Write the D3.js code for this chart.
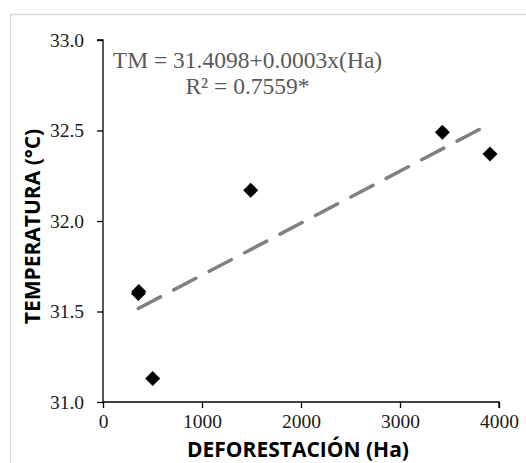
<!DOCTYPE html>
<html>
<head>
<meta charset="utf-8">
<script src="https://cdn.jsdelivr.net/npm/d3@7"></script>
<style>
  body { margin: 0; background: #fff; }
  svg { display: block; }
  .serif { font-family: "Liberation Serif", "Times New Roman", serif; }
  .title { font-family: "Open Sans", sans-serif; font-weight: bold; }
</style>
</head>
<body>
<div id="chart"></div>
<script>
// deforestation (Ha) vs temperature (°C)
var deforestacion = [357, 362, 502, 1492, 3428, 3909];
var temperatura = [31.60, 31.61, 31.13, 32.17, 32.49, 32.37];
var xTicks = [0, 1000, 2000, 3000, 4000];
var yTicks = [31.0, 31.5, 32.0, 32.5, 33.0];
var ecuacion = ["TM = 31.4098+0.0003x(Ha)", "R\u00b2 = 0.7559*"];

var width = 526;
var height = 463;

var points = deforestacion.map((d, i) => ({x: d, y: temperatura[i]}));

/* least squares trendline over the data range */
var mx = d3.mean(deforestacion), my = d3.mean(temperatura);
var sxy = d3.sum(points, d => (d.x - mx) * (d.y - my));
var sxx = d3.sum(points, d => (d.x - mx) * (d.x - mx));
var slope = sxy / sxx;
var inter = my - slope * mx;
var trend = d3.extent(deforestacion).map(x => ({x: x, y: inter + slope * x}));

var xScale = d3.scaleLinear().domain([0, 4000]).range([103, 499]);
var yScale = d3.scaleLinear().domain([31, 33]).range([402, 40]);

var svg = d3.select("#chart").append("svg")
  .attr("width", width)
  .attr("height", height);

// chart area border
svg.append("rect")
  .attr("x", 10.5).attr("y", 14.5)
  .attr("width", 600).attr("height", 600)
  .attr("fill", "#fff")
  .attr("stroke", "#d9d9d9")
  .attr("stroke-width", 1.5);

/* Axes */
var xAxis = d3.axisBottom(xScale).tickValues(xTicks).tickSize(6).tickFormat(d3.format("d"));
var yAxis = d3.axisLeft(yScale).tickValues(yTicks).tickSize(6).tickFormat(d3.format(".1f"));

var gx = svg.append("g")
  .attr("transform", "translate(0," + yScale(31) + ")")
  .call(xAxis)
  .attr("font-family", null)
  .attr("font-size", null);
gx.select(".domain").attr("d", "M" + xScale(0) + ",0H" + xScale(4000) + "V6");
gx.selectAll("text")
  .attr("class", "serif")
  .attr("y", 12)
  .attr("dy", "0.71em")
  .attr("font-size", 19.5)
  .attr("fill", "#1a1a1a");

var gy = svg.append("g")
  .attr("transform", "translate(" + xScale(0) + ",0)")
  .call(yAxis)
  .attr("font-family", null)
  .attr("font-size", null);
gy.select(".domain").attr("d", "M-6," + yScale(33) + "H0V" + yScale(31));
gy.selectAll("text")
  .attr("class", "serif")
  .attr("x", -19)
  .attr("font-size", 19.5)
  .attr("fill", "#1a1a1a");

svg.selectAll(".domain, .tick line").attr("stroke", "#000").attr("stroke-width", 1.3);

/* Trendline */
var line = d3.line()
  .x(d => xScale(d.x))
  .y(d => yScale(d.y));

svg.append("path")
  .attr("d", line(trend))
  .attr("fill", "none")
  .attr("stroke", "#808080")
  .attr("stroke-width", 3.5)
  .attr("stroke-linecap", "round")
  .attr("stroke-dasharray", "25,15");

/* Points */
svg.append("g")
  .selectAll("path")
  .data(points).enter()
  .append("path")
  .attr("transform", d => "translate(" + xScale(d.x) + "," + yScale(d.y) + ")")
  .attr("d", "M0,-7.5L7.5,0L0,7.5L-7.5,0Z")
  .attr("fill", "#000");

/* Equation */
svg.append("g")
  .selectAll("text")
  .data(ecuacion).enter()
  .append("text")
  .attr("class", "serif")
  .attr("x", 247.5)
  .attr("y", (d, i) => 68 + i * 26)
  .attr("text-anchor", "middle")
  .attr("font-size", 23.5)
  .attr("fill", "#595959")
  .text(d => d);

/* Axis titles */
svg.append("text")
  .attr("class", "title")
  .attr("x", 298)
  .attr("y", 457)
  .attr("text-anchor", "middle")
  .attr("font-size", 21)
  .attr("fill", "#000")
  .text("DEFORESTACI\u00d3N (Ha)");

svg.append("text")
  .attr("class", "title")
  .attr("transform", "translate(40,226.5) rotate(-90)")
  .attr("text-anchor", "middle")
  .attr("font-size", 21)
  .attr("fill", "#000")
  .text("TEMPERATURA (\u00b0C)");
</script>
</body>
</html>
